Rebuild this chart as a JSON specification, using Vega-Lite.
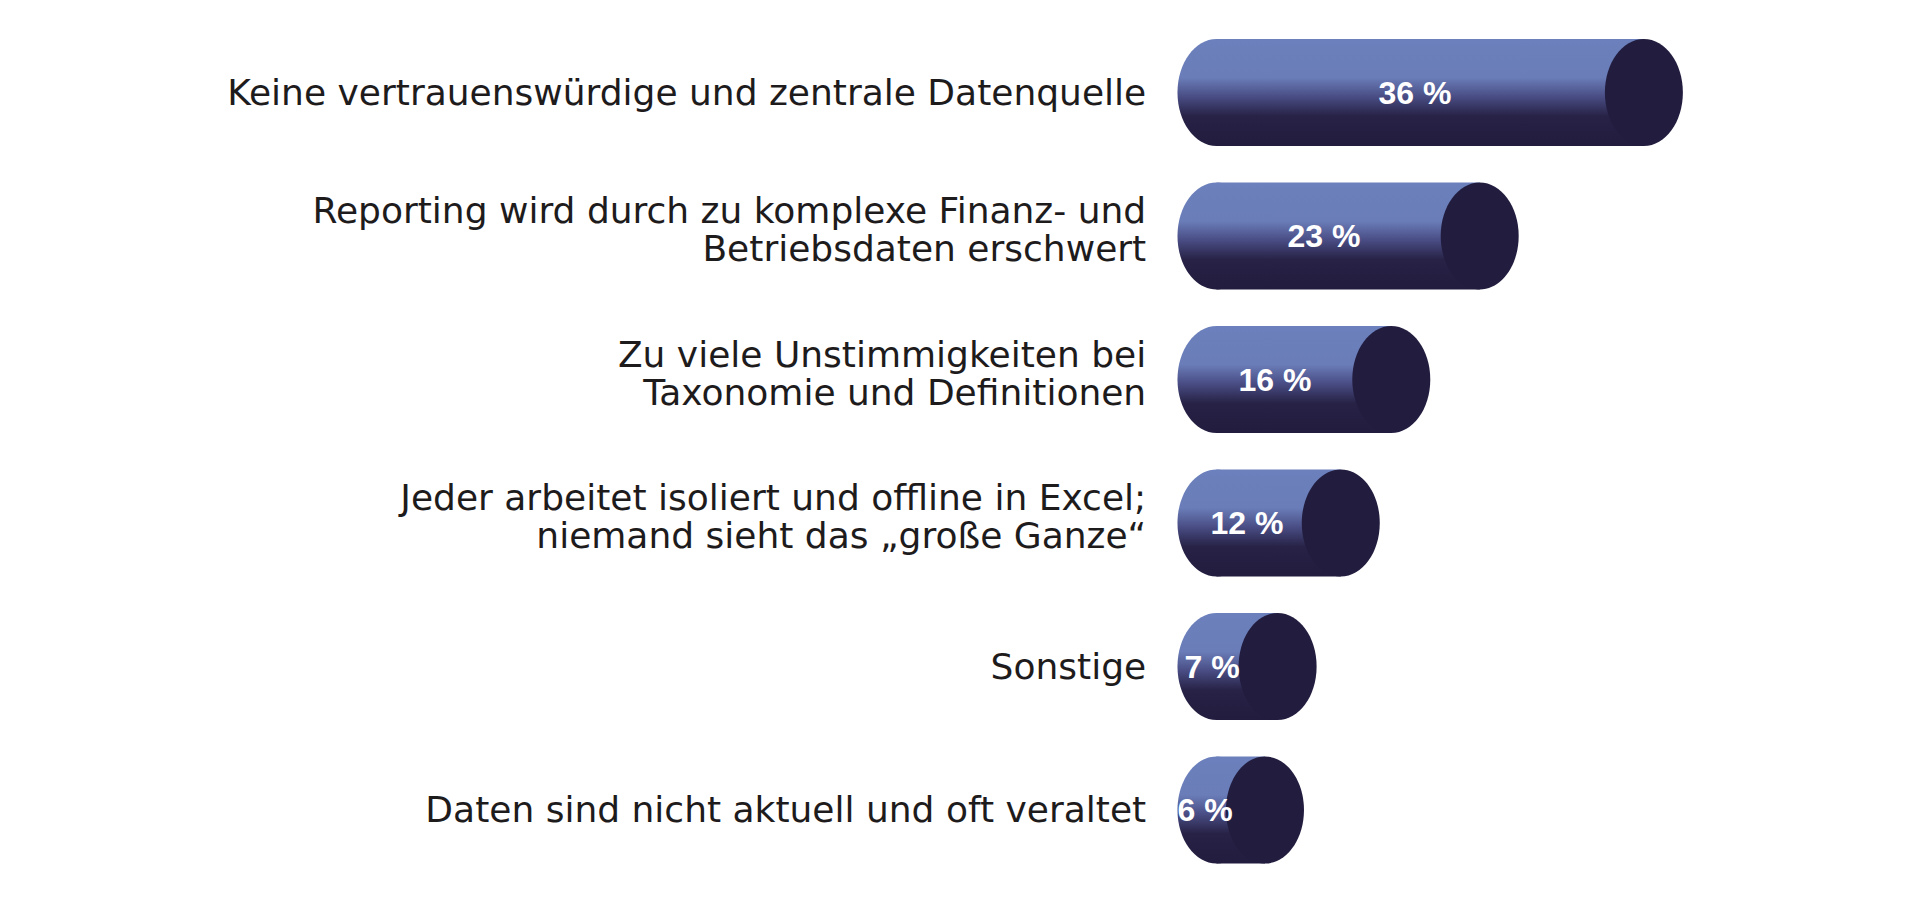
{
  "$schema": "https://vega.github.io/schema/vega-lite/v6.json",
  "width": 505.2,
  "height": 861,
  "autosize": {"type": "none"},
  "padding": {"left": 1189.2, "top": 20.75, "right": 225.6, "bottom": 16.25},
  "background": "white",
  "config": {"view": {"stroke": null}},
  "data": {
    "values": [
      {"label": "Keine vertrauenswürdige und zentrale Datenquelle", "value": 36},
      {"label": "Reporting wird durch zu komplexe Finanz- und |Betriebsdaten erschwert", "value": 23},
      {"label": "Zu viele Unstimmigkeiten bei|Taxonomie und Definitionen", "value": 16},
      {"label": "Jeder arbeitet isoliert und offline in Excel;|niemand sieht das „große Ganze“", "value": 12},
      {"label": "Sonstige", "value": 7},
      {"label": "Daten sind nicht aktuell und oft veraltet", "value": 6}
    ]
  },
  "encoding": {
    "y": {
      "field": "label",
      "type": "nominal",
      "sort": null,
      "scale": {"paddingInner": 0, "paddingOuter": 0},
      "axis": null
    }
  },
  "layer": [
    {
      "mark": {
        "type": "bar",
        "height": {"band": 0.746},
        "fill": {
          "gradient": "linear", "x1": 0, "y1": 0, "x2": 0, "y2": 1,
          "stops": [
            {"offset": 0, "color": "#6b80bc"},
            {"offset": 0.36, "color": "#6a7db8"},
            {"offset": 0.53, "color": "#4b4f87"},
            {"offset": 0.72, "color": "#272246"},
            {"offset": 1, "color": "#221c3e"}
          ]
        }
      },
      "encoding": {
        "x": {"field": "value", "type": "quantitative", "scale": {"domain": [0, 40], "nice": false, "zero": false}, "axis": null},
        "x2": {"datum": 2.16}
      }
    },
    {
      "mark": {
        "type": "point",
        "filled": true,
        "opacity": 1,
        "strokeWidth": 0,
        "size": 11449,
        "shape": "M0.729,0C0.729,0.552,0.403,1,0,1C-0.403,1,-0.729,0.552,-0.729,0C-0.729,-0.552,-0.403,-1,0,-1C0.403,-1,0.729,-0.552,0.729,0Z",
        "fill": {
          "gradient": "linear", "x1": 0, "y1": 0, "x2": 0, "y2": 1,
          "stops": [
            {"offset": 0, "color": "#6b80bc"},
            {"offset": 0.36, "color": "#6a7db8"},
            {"offset": 0.53, "color": "#4b4f87"},
            {"offset": 0.72, "color": "#272246"},
            {"offset": 1, "color": "#221c3e"}
          ]
        }
      },
      "encoding": {
        "x": {"datum": 2.16, "type": "quantitative", "scale": {"domain": [0, 40], "nice": false, "zero": false}, "axis": null}
      }
    },
    {
      "mark": {
        "type": "point",
        "filled": true,
        "opacity": 1,
        "strokeWidth": 0,
        "size": 11449,
        "shape": "M0.729,0C0.729,0.552,0.403,1,0,1C-0.403,1,-0.729,0.552,-0.729,0C-0.729,-0.552,-0.403,-1,0,-1C0.403,-1,0.729,-0.552,0.729,0Z",
        "fill": "#221d3f"
      },
      "encoding": {
        "x": {"field": "value", "type": "quantitative", "scale": {"domain": [0, 40], "nice": false, "zero": false}, "axis": null}
      }
    },
    {
      "transform": [{"calculate": "datum.value + ' %'", "as": "pct"}],
      "mark": {
        "type": "text",
        "font": "Liberation Sans",
        "fontWeight": "bold",
        "fontSize": 32,
        "color": "white",
        "align": "center",
        "baseline": "middle",
        "dy": 1
      },
      "encoding": {
        "x": {"field": "value", "type": "quantitative", "scale": {"domain": [3.74, 75.91], "nice": false, "zero": false}, "axis": null},
        "text": {"field": "pct"}
      }
    },
    {
      "transform": [{"filter": "indexof(datum.label, '|') < 0"}],
      "mark": {
        "type": "text",
        "font": "DejaVu Sans",
        "fontSize": 36,
        "color": "#1e1b1c",
        "align": "right",
        "baseline": "middle",
        "lineBreak": "|",
        "lineHeight": 38,
        "dx": -43,
        "dy": 1
      },
      "encoding": {
        "x": {"datum": 0, "type": "quantitative", "scale": {"domain": [0, 40], "nice": false, "zero": false}, "axis": null},
        "text": {"field": "label"}
      }
    },
    {
      "transform": [{"filter": "indexof(datum.label, '|') >= 0"}],
      "mark": {
        "type": "text",
        "font": "DejaVu Sans",
        "fontSize": 36,
        "color": "#1e1b1c",
        "align": "right",
        "baseline": "middle",
        "lineBreak": "|",
        "lineHeight": 38,
        "dx": -43,
        "dy": -24
      },
      "encoding": {
        "x": {"datum": 0, "type": "quantitative", "scale": {"domain": [0, 40], "nice": false, "zero": false}, "axis": null},
        "text": {"field": "label"}
      }
    }
  ],
  "resolve": {"scale": {"x": "independent"}}
}
